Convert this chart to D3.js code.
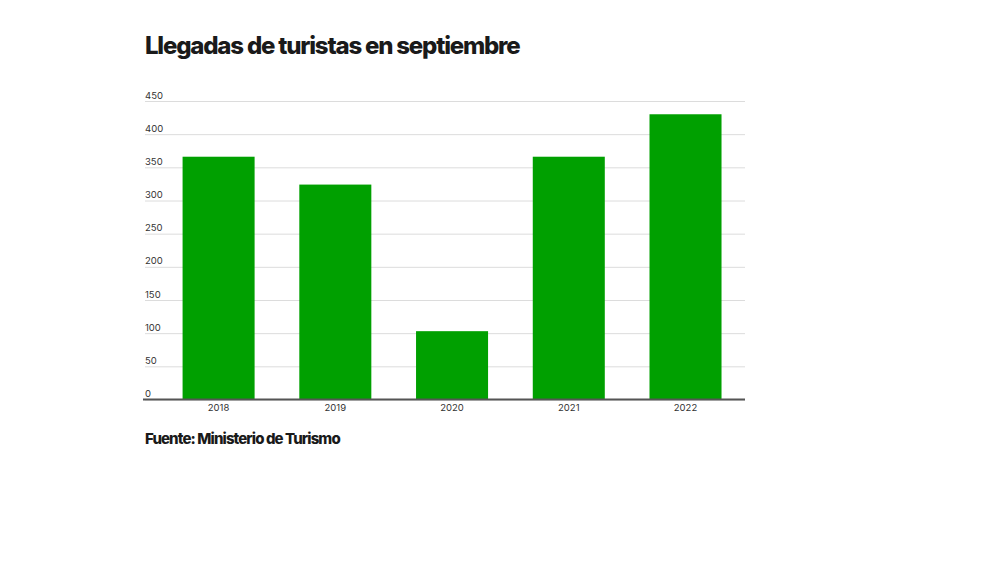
<!DOCTYPE html>
<html lang="es">
<head>
<meta charset="utf-8">
<title>Llegadas de turistas en septiembre</title>
<script src="https://d3js.org/d3.v7.min.js"></script>
<style>
  body { margin: 0; background: #fff; }
  svg text { font-family: Inter, "Liberation Sans", sans-serif; }
  .title { font-size: 24px; font-weight: 800; fill: #1a1a1a; letter-spacing: -1.2px; }
  .source { font-size: 15px; font-weight: 800; fill: #1a1a1a; letter-spacing: -0.9px; }
  .tick text { font-size: 9.5px; fill: #333; }
</style>
</head>
<body>
<div id="chart"></div>
<script>
// Data
const years = ["2018", "2019", "2020", "2021", "2022"];
const arrivals = [366, 324, 103, 366, 430];
const yTicks = [0, 50, 100, 150, 200, 250, 300, 350, 400, 450];

const width = 1000;
const height = 562;
const plotLeft = 145, plotRight = 745, plotTop = 101, plotBottom = 399.5;

const svg = d3.select("#chart").append("svg")
  .attr("width", width)
  .attr("height", height);

// Scales
const x = d3.scaleBand()
  .domain(years)
  .range([160.4, 743.7])
  .paddingInner(0.383)
  .paddingOuter(0.19);

const y = d3.scaleLinear()
  .domain([0, 450])
  .range([plotBottom, plotTop]);

// Gridlines + y labels
const yAxis = svg.append("g")
  .attr("transform", `translate(${plotLeft},0)`)
  .call(d3.axisRight(y).tickValues(yTicks).tickSize(plotRight - plotLeft).tickFormat(d3.format("d")));
yAxis.select(".domain").remove();
yAxis.selectAll(".tick line").attr("stroke", "#dcdcdc").attr("stroke-width", 1);
yAxis.selectAll(".tick text")
  .attr("x", 0)
  .attr("dy", "-3")
  .attr("text-anchor", "start");

// Bars
svg.selectAll(".bar")
  .data(years.map((yr, i) => ({ year: yr, value: arrivals[i] })))
  .enter().append("rect")
  .attr("class", "bar")
  .attr("x", d => x(d.year))
  .attr("y", d => y(d.value))
  .attr("width", x.bandwidth())
  .attr("height", d => plotBottom - y(d.value))
  .attr("fill", "#00a000");

// Baseline
svg.append("line")
  .attr("x1", plotLeft - 2)
  .attr("x2", plotRight)
  .attr("y1", plotBottom)
  .attr("y2", plotBottom)
  .attr("stroke", "#555")
  .attr("stroke-width", 1.8);

// x labels
const xAxis = svg.append("g")
  .attr("transform", `translate(0,${plotBottom})`)
  .call(d3.axisBottom(x).tickSize(0).tickPadding(5));
xAxis.select(".domain").remove();

// Title and source
svg.append("text")
  .attr("class", "title")
  .attr("x", 145)
  .attr("y", 54)
  .text("Llegadas de turistas en septiembre");

svg.append("text")
  .attr("class", "source")
  .attr("x", 145)
  .attr("y", 444)
  .text("Fuente: Ministerio de Turismo");
</script>
</body>
</html>
